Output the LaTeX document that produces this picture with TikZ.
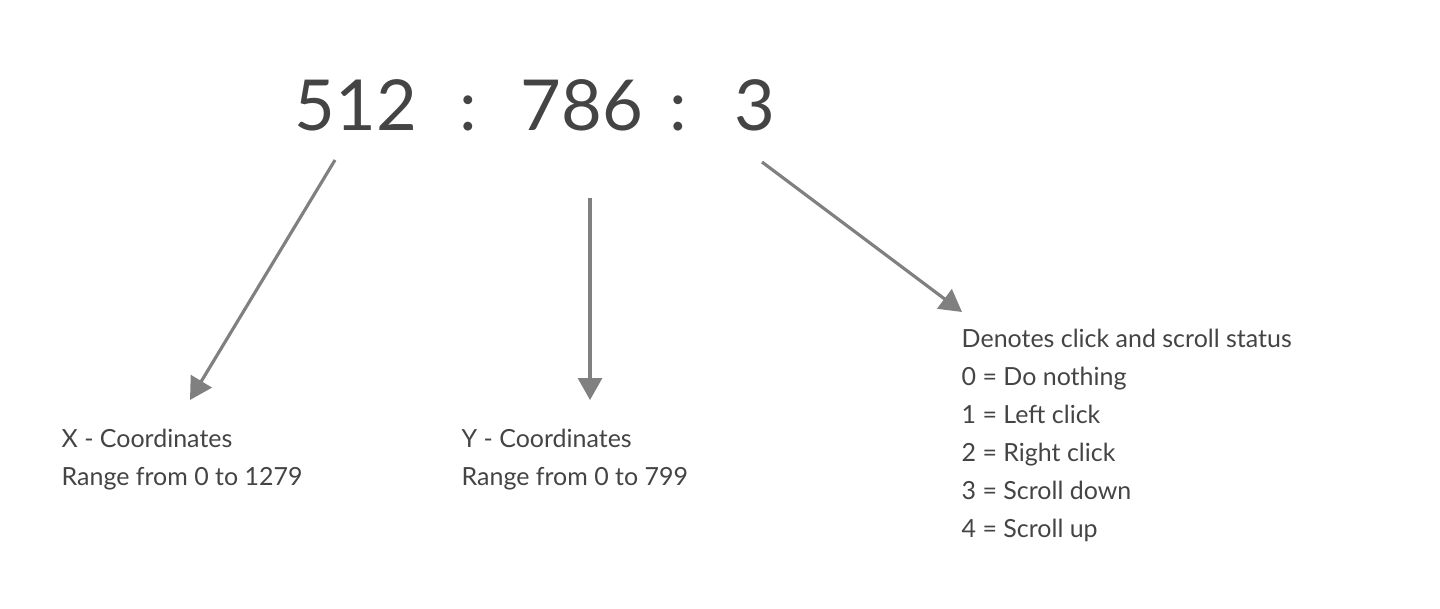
\documentclass[tikz,border=0pt]{standalone}
\usepackage{fontspec}
\setmainfont{Lato}
\usepackage{tikz}
\usetikzlibrary{arrows.meta}
\usetikzlibrary{positioning}
\definecolor{ink}{RGB}{68,68,68}
\definecolor{pointer}{RGB}{128,128,128}
\begin{document}
\begin{tikzpicture}[
        x=0.01cm, y=-0.01cm,
        value/.style={anchor=base, inner sep=0pt, text=ink, font=\fontsize{20}{24}\selectfont},
        caption/.style={anchor=north west, inner sep=0pt, align=left, text=ink, font=\fontsize{7.1}{10.8}\selectfont},
        arrow/.style={-{Triangle[width=2.4mm,length=2.2mm]}, line width=0.9pt, pointer},
    ]
    \useasboundingbox (0,0) rectangle (1440,608);
    \node[value] (xval) at (356,130) {512};
    \node[value] (sepa) at (468,130) {:};
    \node[value] (yval) at (582,130) {786};
    \node[value] (sepb) at (678,130) {:};
    \node[value] (cval) at (755,130) {3};
    \node[caption] (xtxt) at (61,428) {X - Coordinates\\Range from 0 to 1279};
    \node[caption] (ytxt) at (461,428) {Y - Coordinates\\Range from 0 to 799};
    \node[caption] (ctxt) at (961,328) {Denotes click and scroll status\\0 = Do nothing\\1 = Left click\\2 = Right click\\3 = Scroll down\\4 = Scroll up};
    \coordinate (xtip) at (190,400);
    \coordinate (ytop) at (590,198);
    \coordinate (ytip) at (590,400);
    \coordinate (ctip) at (962,312);
    \draw[arrow] (335,160) -- (xtip);
    \draw[arrow] (ytop) -- (ytip);
    \draw[arrow] (762,162) -- (ctip);
\end{tikzpicture}
\end{document}
